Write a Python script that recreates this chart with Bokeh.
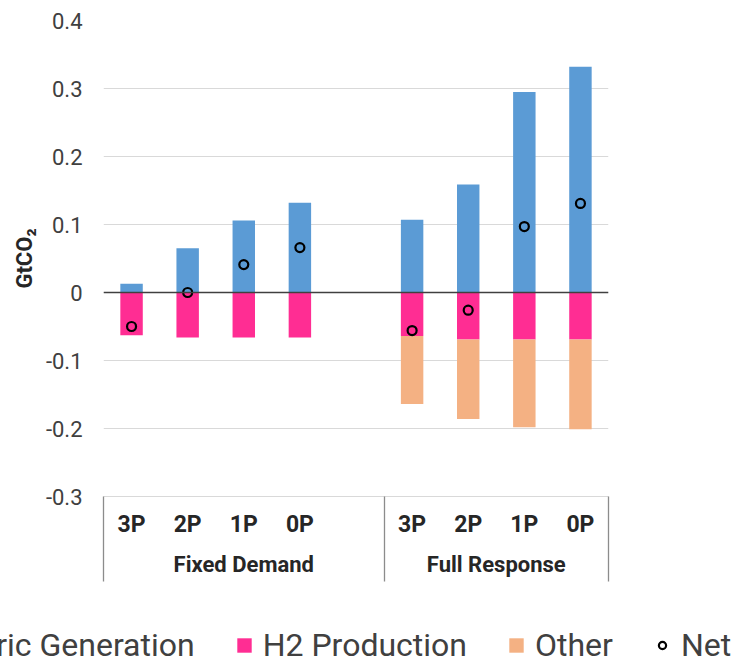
from bokeh.plotting import figure
from bokeh.layouts import column
from bokeh.models import (Range1d, FixedTicker, LinearAxis, Span, Legend, LegendItem,
                          CustomJSTickFormatter, ColumnDataSource)
from bokeh.embed import file_html
from bokeh.resources import INLINE

# ---- data ----
groups = ["Fixed Demand", "Full Response"]
group_slots = [5, 4]          # Fixed Demand has an empty slot after 0P
scenarios = ["3P", "2P", "1P", "0P"]
electric = [0.013, 0.065, 0.106, 0.132, 0.107, 0.159, 0.295, 0.332]
h2 = [-0.063, -0.066, -0.066, -0.066, -0.064, -0.069, -0.069, -0.069]
other = [0.0, 0.0, 0.0, 0.0, -0.100, -0.117, -0.129, -0.132]
net = [-0.050, 0.000, 0.041, 0.066, -0.056, -0.026, 0.097, 0.131]
y_ticks = [-0.3, -0.2, -0.1, 0.0, 0.1, 0.2, 0.3, 0.4]
series_names = ["Electric Generation", "H2 Production", "Other", "Net"]

BLUE = "#5B9BD5"
PINK = "#FF2D93"
PEACH = "#F4B183"
FONT = "Roboto"

# ---- category positions on a slot scale ----
xs, labels, group_centers, bounds = [], [], [], [0]
start = 0
for g, n in zip(groups, group_slots):
    for i, s in enumerate(scenarios):
        xs.append(start + i + 0.5)
        labels.append(s)
    group_centers.append(start + n / 2)
    start += n
    bounds.append(start)

src = ColumnDataSource(dict(
    x=xs,
    elec=electric,
    h2=h2,
    other_top=h2,
    other_bot=[a + b for a, b in zip(h2, other)],
    net=net,
))

p = figure(width=734, height=600,
           x_range=Range1d(0, start), y_range=Range1d(-0.3, 0.4),
           output_backend="svg", toolbar_location=None,
           min_border_left=103, min_border_right=126,
           min_border_top=20, min_border_bottom=104)
p.outline_line_color = None
p.xgrid.visible = False
p.frame_align = False

# y axis
ya = p.yaxis[0]
ya.ticker = FixedTicker(ticks=y_ticks)
ya.formatter = CustomJSTickFormatter(code="return Math.abs(tick) < 1e-9 ? '0' : tick.toFixed(1);")
ya.axis_line_color = None
ya.major_tick_line_color = None
ya.minor_tick_line_color = None
ya.major_tick_out = 0
ya.major_tick_in = 0
ya.minor_tick_out = 0
ya.minor_tick_in = 0
ya.major_label_standoff = 21
ya.major_label_text_font = FONT
ya.major_label_text_font_size = "22px"
ya.major_label_text_color = "#404040"
ya.axis_label = "GtCO₂"
ya.axis_label_text_font = FONT
ya.axis_label_text_font_size = "22px"
ya.axis_label_text_font_style = "bold"
ya.axis_label_text_color = "#262626"
ya.axis_label_standoff = 6
p.ygrid.grid_line_color = "#D9D9D9"
p.ygrid.grid_line_width = 1

# x axis: scenario labels + group separators (minor ticks)
xa = p.xaxis[0]
xa.ticker = FixedTicker(ticks=xs, minor_ticks=bounds)
xa.formatter = CustomJSTickFormatter(
    args=dict(pos=xs, names=labels),
    code="const i = pos.findIndex(v => Math.abs(v - tick) < 1e-6); return i >= 0 ? names[i] : '';")
xa.axis_line_color = "#D9D9D9"
xa.major_tick_line_color = None
xa.major_tick_out = 0
xa.major_tick_in = 0
xa.minor_tick_in = 0
xa.minor_tick_out = 85
xa.minor_tick_line_color = "#8C8C8C"
xa.minor_tick_line_width = 1.3
xa.major_label_standoff = -71
xa.major_label_text_font = FONT
xa.major_label_text_font_size = "23px"
xa.major_label_text_font_style = "bold"
xa.major_label_text_color = "#262626"

# group axis
ga = LinearAxis(ticker=FixedTicker(ticks=group_centers, minor_ticks=[]),
                formatter=CustomJSTickFormatter(
                    args=dict(pos=group_centers, names=groups),
                    code="const i = pos.findIndex(v => Math.abs(v - tick) < 1e-6); return i >= 0 ? names[i] : '';"))
ga.axis_line_color = None
ga.major_tick_line_color = None
ga.minor_tick_line_color = None
ga.major_tick_out = 0
ga.major_tick_in = 0
ga.major_label_standoff = 11
ga.major_label_text_font = FONT
ga.major_label_text_font_size = "22px"
ga.major_label_text_font_style = "bold"
ga.major_label_text_color = "#262626"
p.add_layout(ga, "below")

# ---- bars ----
w = 0.4
bar_specs = [
    dict(bottom=0, top="elec", fill_color=BLUE),
    dict(bottom=0, top="h2", fill_color=PINK),
    dict(bottom="other_bot", top="other_top", fill_color=PEACH),
]
for spec in bar_specs:
    p.vbar(x="x", width=w, source=src, line_color=None, **spec)

p.add_layout(Span(location=0, dimension="width", line_color="#404040", line_width=1.5))

net_style = dict(marker="circle", size=9, fill_color=None, line_color="black", line_width=2.2)
p.scatter(x="x", y="net", source=src, **net_style)

# ---- legend strip: own figure, same series; its ranges keep the marks out of view ----
pl = figure(width=734, height=60, x_range=Range1d(0, start), y_range=Range1d(1, 2),
            output_backend="svg", toolbar_location=None,
            min_border_left=0, min_border_right=0, min_border_top=0, min_border_bottom=0,
            x_axis_location=None, y_axis_location=None)
pl.outline_line_color = None
pl.xgrid.visible = False
pl.ygrid.visible = False
pl.frame_align = False

leg_renderers = [pl.vbar(x="x", width=w, source=src, line_color=None, **spec) for spec in bar_specs]
leg_renderers.append(pl.scatter(x="x", y="net", source=src, **net_style))

legend = Legend(items=[LegendItem(label=name, renderers=[r], index=0)
                       for name, r in zip(series_names, leg_renderers)],
                orientation="horizontal", location=(-102, -4))
legend.glyph_width = 18
legend.glyph_height = 18
legend.label_height = 18
legend.label_standoff = 10
legend.spacing = 40
legend.padding = 0
legend.margin = 0
legend.border_line_color = None
legend.background_fill_alpha = 0
legend.label_text_font = FONT
legend.label_text_font_size = "32px"
legend.label_text_color = "#404040"
pl.add_layout(legend)

layout = column(p, pl, spacing=0)
open("out.html", "w").write(file_html(layout, INLINE))
